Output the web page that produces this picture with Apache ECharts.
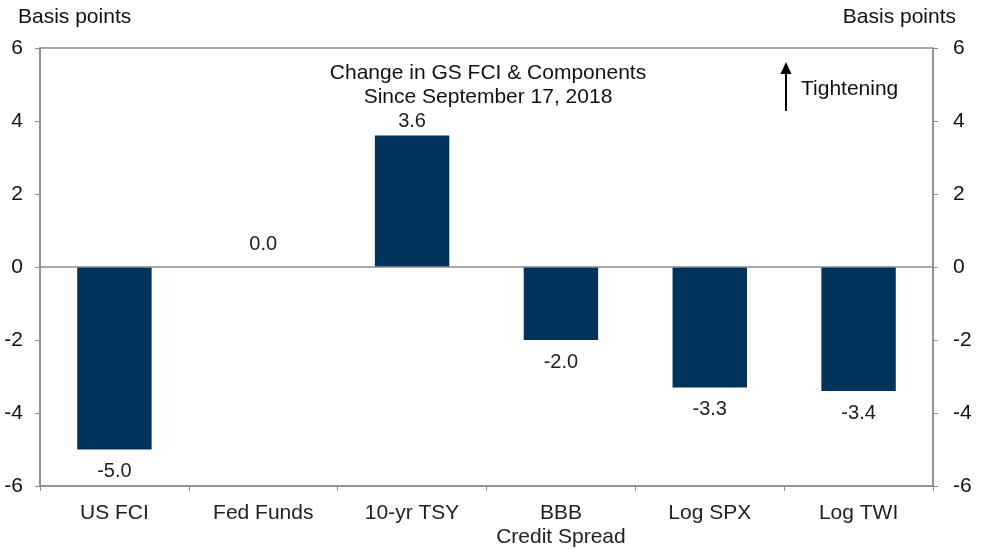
<!DOCTYPE html>
<html><head><meta charset="utf-8">
<script src="https://cdn.jsdelivr.net/npm/echarts@6/dist/echarts.min.js"></script>
<style>html,body{margin:0;padding:0;background:#fff}#c{width:981px;height:549px}</style>
</head><body><div id="c"></div>
<script>
const categories = ['US FCI', 'Fed Funds', '10-yr TSY', 'BBB\nCredit Spread', 'Log SPX', 'Log TWI'];
const values = [-5.0, 0.0, 3.6, -2.0, -3.3, -3.4];
const yTicks = [-6, -4, -2, 0, 2, 4, 6];
const titleLines = ['Change in GS FCI & Components', 'Since September 17, 2018'];
const unitLabel = 'Basis points';
const noteLabel = 'Tightening';

const FONT = '"Liberation Sans", Arial, sans-serif';
const FS = 21;
const chart = echarts.init(document.getElementById('c'), null, {renderer: 'canvas'});

const data = values.map(v => ({
  value: v,
  label: v < 0 ? {position: 'bottom', distance: 12} : (v === 0 ? {position: 'top', distance: 13} : {position: 'top', distance: 4})
}));

const yAxisCommon = {
  type: 'value', min: yTicks[0], max: yTicks[yTicks.length - 1], interval: 2,
  axisLine: {show: true, lineStyle: {color: '#8c8c8c', width: 1.5}},
  axisTick: {show: true, length: 5, lineStyle: {color: '#8c8c8c'}},
  splitLine: {show: false},
  axisLabel: {color: '#111', fontFamily: FONT, fontSize: FS, margin: 17}
};

chart.setOption({
  animation: false,
  backgroundColor: '#fff',
  grid: {left: 40, right: 48, top: 48, bottom: 61, show: true, borderColor: '#8c8c8c', borderWidth: 1.5},
  xAxis: {
    type: 'category', data: categories, position: 'bottom',
    axisLine: {show: true, onZero: false, lineStyle: {color: '#8c8c8c', width: 1.5}},
    axisTick: {show: true, length: 5, alignWithLabel: false, lineStyle: {color: '#8c8c8c'}},
    axisLabel: {color: '#222', fontFamily: FONT, fontSize: FS, margin: 15, lineHeight: 24, interval: 0, verticalAlign: 'top'}
  },
  yAxis: [
    Object.assign({position: 'left'}, yAxisCommon),
    Object.assign({position: 'right'}, yAxisCommon, {axisLabel: Object.assign({}, yAxisCommon.axisLabel, {margin: 20})})
  ],
  series: [{
    type: 'bar', data: data, barWidth: '50%', yAxisIndex: 0,
    itemStyle: {color: '#00335b'},
    label: {show: true, color: '#222', fontFamily: FONT, fontSize: 20, formatter: p => p.value.toFixed(1)},
    markLine: {
      silent: true, symbol: 'none', label: {show: false},
      lineStyle: {color: '#8c8c8c', width: 1.5, type: 'solid'},
      data: [{yAxis: 0}]
    }
  }],
  graphic: [
    {type: 'text', left: 18, top: 7, style: {text: unitLabel, font: FS + 'px ' + FONT, fill: '#111'}},
    {type: 'text', right: 25, top: 7, style: {text: unitLabel, font: FS + 'px ' + FONT, fill: '#111', textAlign: 'right'}},
    {type: 'text', x: 488, y: 61, style: {text: titleLines.join('\n'), font: FS + 'px ' + FONT, fill: '#111', textAlign: 'center', lineHeight: 24}},
    {type: 'text', x: 801, y: 79, style: {text: noteLabel, font: FS + 'px ' + FONT, fill: '#111'}},
    {type: 'line', shape: {x1: 786, y1: 111, x2: 786, y2: 72}, style: {stroke: '#000', lineWidth: 2}},
    {type: 'polygon', shape: {points: [[780.5, 74], [791.5, 74], [786, 62]]}, style: {fill: '#000'}}
  ]
});
</script></body></html>
